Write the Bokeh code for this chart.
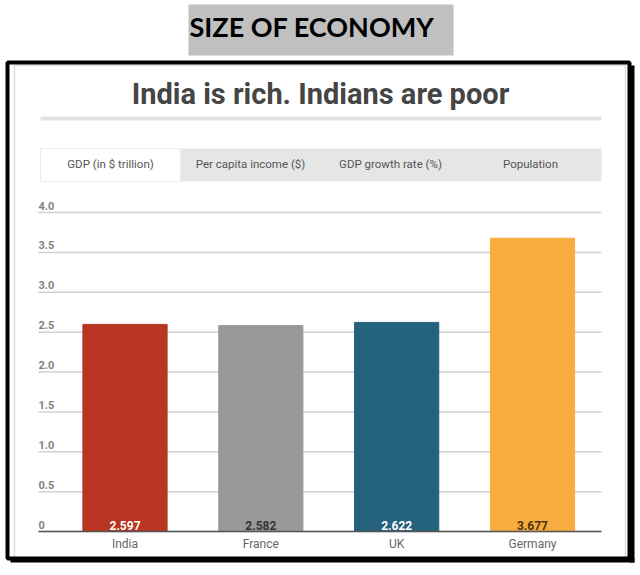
from bokeh.plotting import figure
from bokeh.models import Range1d, ColumnDataSource, Label, BoxAnnotation
from bokeh.core.properties import value
from bokeh.embed import file_html
from bokeh.resources import INLINE

# ---- data ----
categories = ["India", "France", "UK", "Germany"]
gdp_trillion = [2.597, 2.582, 2.622, 3.677]
bar_colors = ["#b83521", "#999999", "#24627e", "#f8ab3f"]
value_label_colors = ["#ffffff", "#333333", "#ffffff", "#4a3510"]
y_ticks = [0, 0.5, 1.0, 1.5, 2.0, 2.5, 3.0, 3.5, 4.0]
y_tick_labels = ["0", "0.5", "1.0", "1.5", "2.0", "2.5", "3.0", "3.5", "4.0"]
tab_names = ["GDP (in $ trillion)", "Per capita income ($)", "GDP growth rate (%)", "Population"]
header_text = "SIZE OF ECONOMY"
chart_title = "India is rich. Indians are poor"

FONT = "Roboto"
W, H = 640, 575

# ---- layout (pixels) ----
PX_X = 135.83        # pixels per category step
X0_PX = 124.5        # pixel centre of first category
PX_Y = 79.75         # pixels per unit of GDP
Y0_PX = 531          # pixel row of value 0
GRID_L, GRID_R = 38, 601

x_start, x_end = -X0_PX / PX_X, (W - X0_PX) / PX_X
y_start, y_end = -(H - Y0_PX) / PX_Y, Y0_PX / PX_Y
grid_x0, grid_x1 = (GRID_L - X0_PX) / PX_X, (GRID_R - X0_PX) / PX_X

p = figure(width=W, height=H,
           x_range=Range1d(x_start, x_end), y_range=Range1d(y_start, y_end),
           output_backend="svg", toolbar_location=None,
           x_axis_location=None, y_axis_location=None,
           min_border=0)
p.min_border_left = p.min_border_right = p.min_border_top = p.min_border_bottom = 0
p.title.visible = False
p.background_fill_color = "white"
p.border_fill_color = "white"
p.outline_line_color = None
p.xgrid.visible = False
p.ygrid.visible = False

# grid lines
n = len(y_ticks)
gsrc = ColumnDataSource(dict(x0=[grid_x0] * n, x1=[grid_x1] * n, y=y_ticks))
p.segment(x0="x0", x1="x1", y0="y", y1="y", source=gsrc,
          line_color="#d0d0d0", line_width=1.5)

# bars
xs = list(range(len(categories)))
src = ColumnDataSource(dict(x=xs, top=gdp_trillion, color=bar_colors,
                            lab=[f"{v:.3f}" for v in gdp_trillion],
                            lab_color=value_label_colors,
                            cat=categories,
                            y0=[0] * len(categories)))
p.vbar(x="x", top="top", width=0.62, color="color", source=src)
p.text(x="x", y="y0", text="lab", text_color="lab_color", source=src,
       text_align="center", text_baseline="bottom", y_offset=-2,
       text_font=value(FONT), text_font_size="12px", text_font_style="bold")

# baseline (value 0)
p.segment(x0=[grid_x0], x1=[grid_x1], y0=[0], y1=[0], line_color="#555555", line_width=1.5)

# category labels
p.text(x="x", y="y0", text="cat", source=src, text_align="center", text_baseline="top",
       y_offset=5, text_font=value(FONT), text_font_size="12px", text_color="#666666")

# y labels above gridlines, left-aligned
ysrc = ColumnDataSource(dict(x=[grid_x0] * n, y=y_ticks, t=y_tick_labels))
p.text(x="x", y="y", text="t", source=ysrc, text_align="left", text_baseline="bottom",
       y_offset=-3, text_font=value(FONT), text_font_size="11px",
       text_font_style="bold", text_color="#808080")


def box(l, r, t, b, fill=None, line=None, lw=1):
    kw = {}
    if fill:
        kw.update(fill_color=fill, fill_alpha=1.0)
    else:
        kw.update(fill_alpha=0.0)
    if line:
        kw.update(line_color=line, line_width=lw, line_alpha=1.0)
    else:
        kw.update(line_alpha=0.0)
    p.add_layout(BoxAnnotation(left=l, right=r, top=H - t, bottom=H - b,
                               left_units="screen", right_units="screen",
                               top_units="screen", bottom_units="screen", **kw))


def label(x, y, text, **kw):
    p.add_layout(Label(x=x, y=H - y, x_units="screen", y_units="screen",
                       text=text, text_baseline="middle", **kw))


# header box
box(188, 453, 4, 55, fill="#c0c0c0")
label(189, 26, header_text, text_font="Lato", text_font_size="27px",
      text_font_style="bold", text_color="#000000", text_align="left")

# outer frame
box(14, 625, 65, 558, line="#dedede", lw=1.5)
box(7, 629, 62, 558, line="#000000", lw=4)
box(629, 634, 65, 562, fill="#000000")
box(10, 634, 558, 562, fill="#000000")

# chart title and rule
label(320, 93, chart_title, text_font=FONT, text_font_size="29px",
      text_font_style="bold", text_color="#454545", text_align="center")
box(40, 601, 116, 120, fill="#e3e3e3")

# tabs
box(40, 601, 148, 181, fill="#e6e6e6")
box(40, 180, 148, 181, fill="#ffffff", line="#ececec", lw=1)
for i, name in enumerate(tab_names):
    label(110 + 140 * i, 163, name, text_font=FONT, text_font_size="11.5px",
          text_color="#555555", text_align="center")

open("out.html", "w").write(file_html(p, INLINE))
